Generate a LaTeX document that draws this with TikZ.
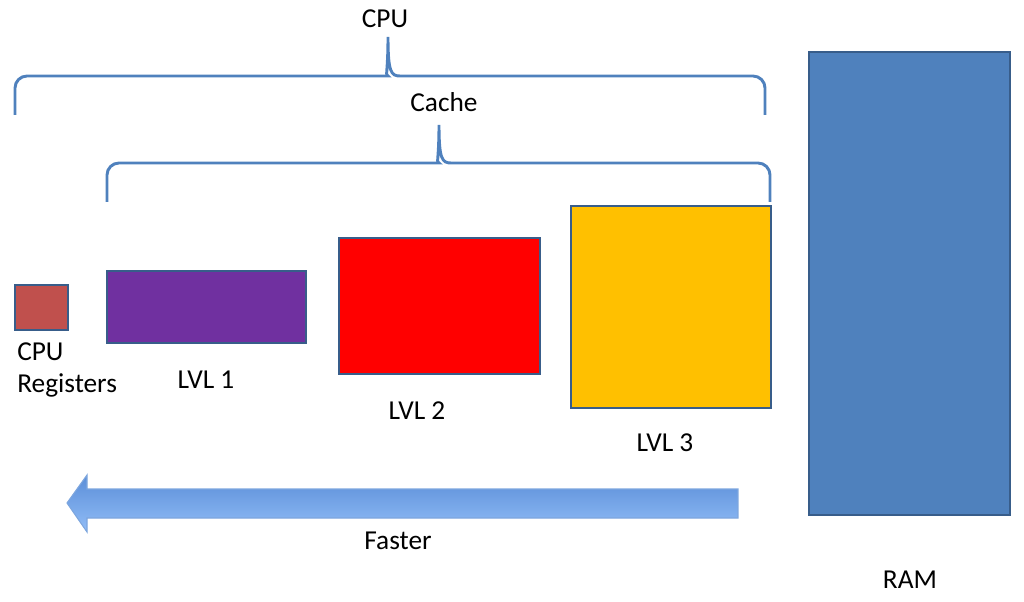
\documentclass[tikz,border=0pt]{standalone}
\usepackage{fontspec}
\setmainfont{Carlito}
\definecolor{acc}{HTML}{4F81BD}
\definecolor{edge}{HTML}{385D8A}
\definecolor{regc}{HTML}{C0504D}
\definecolor{lvla}{HTML}{7030A0}
\definecolor{lvlc}{HTML}{FFC000}
\definecolor{arrtop}{HTML}{5A8ED8}
\definecolor{arrbot}{HTML}{92BDF7}
\definecolor{arredge}{HTML}{7DA6DE}
\tikzset{
  box/.style={draw=edge, line width=1.8pt},
  brace/.style={draw=acc, line width=2.2pt, rounded corners=9pt},
  lbl/.style={font=\fontsize{20.5}{24}\selectfont, inner sep=0pt},
}
\begin{document}
\begin{tikzpicture}[x=0.75pt,y=-0.75pt]
\useasboundingbox (0,0) rectangle (1024,602);
% braces
\draw[brace] (15,115) -- (15,76) -- (376,76) [sharp corners] .. controls (385,76) and (388,72) .. (388,37) .. controls (388,72) and (391,76) .. (400,76) [rounded corners=9pt] -- (765,76) -- (765,115);
\draw[brace] (107,202) -- (107,163) -- (427,163) [sharp corners] .. controls (436,163) and (439,159) .. (439,125) .. controls (439,159) and (442,163) .. (451,163) [rounded corners=9pt] -- (770,163) -- (770,202);
\node[lbl] (cpu) at (385,19) {CPU};
\node[lbl] (cache) at (444,102) {Cache};
% boxes
\draw[box, fill=regc] (15,285) rectangle (68,330);
\draw[box, fill=lvla] (107,271) rectangle (306,343);
\draw[box, fill=red] (339,238) rectangle (540,374);
\draw[box, fill=lvlc] (571,206) rectangle (771,408);
\draw[box, fill=acc] (809,52) rectangle (1010,515);
\node[lbl, anchor=west] (rega) at (17,352) {CPU};
\node[lbl, anchor=west] (regb) at (17,385) {Registers};
\node[lbl] (l1) at (206,380) {LVL 1};
\node[lbl] (l2) at (417,411) {LVL 2};
\node[lbl] (l3) at (665,443) {LVL 3};
\node[lbl] (ram) at (910,580) {RAM};
% arrow
\shade[top color=arrtop, bottom color=arrbot, draw=arredge, line width=0.8pt]
  (738,489) -- (87,489) -- (87,475) -- (67,503) -- (87,532) -- (87,518) -- (738,518) -- cycle;
\node[lbl] (fast) at (398,541) {Faster};
\end{tikzpicture}
\end{document}
